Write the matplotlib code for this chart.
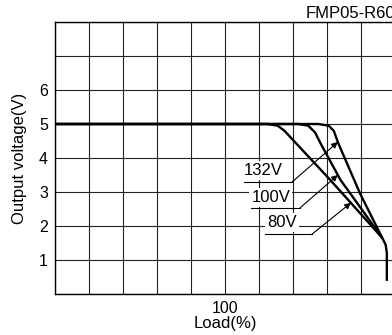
import numpy as np
import matplotlib
matplotlib.use("Agg")
import matplotlib.pyplot as plt

plt.rcParams['font.family'] = ['Liberation Sans', 'DejaVu Sans']

# curves (load %, output V)
load_80 = [0, 125, 131, 135, 140, 162, 192.5]
volt_80 = [5, 5, 4.95, 4.8, 4.53, 3.35, 1.65]
load_100 = [0, 143, 149, 153, 156, 168, 192.5]
volt_100 = [5, 5, 4.95, 4.75, 4.45, 3.35, 1.65]
load_132 = [0, 155, 161, 164, 166.5, 179.5, 192.5]
volt_132 = [5, 5, 4.95, 4.8, 4.45, 2.95, 1.65]
# common tail after the curves meet
load_tail = [192.5, 194.5, 195.2, 195.2]
volt_tail = [1.65, 1.45, 1.2, 0.42]

labels = ["132V", "100V", "80V"]
# label text position, underline span, arrow target voltage
txt_pos = [(122.4, 3.62), (127, 2.85), (133.5, 2.09)]
under_x = [(111, 139.4), (115.3, 144.1), (123.5, 151.2)]
under_y = [3.29, 2.53, 1.76]
tip_v = [4.47, 3.5, 2.68]

fig = plt.figure(figsize=(3.92, 3.35), dpi=100)
ax = fig.add_axes([55/392, 41/335, 340/392, 272/335])

ax.set_xlim(0, 200)
ax.set_ylim(0, 8)
ax.set_xticks(range(0, 201, 20))
ax.set_xticklabels(['100' if v == 100 else '' for v in range(0, 201, 20)], fontsize=11.5)
ax.set_yticks(range(0, 9))
ax.set_yticklabels(['' if v in (0, 7, 8) else str(v) for v in range(0, 9)], fontsize=11.5)
ax.tick_params(length=0, pad=5)
ax.grid(True, color='#222222', lw=0.8)
ax.set_axisbelow(True)
for s in ax.spines.values():
    s.set_color('black')
    s.set_linewidth(1.0)

curves = [(load_132, volt_132), (load_100, volt_100), (load_80, volt_80)]
for lx, vy in curves:
    ax.plot(lx, vy, color='black', lw=1.7, solid_capstyle='butt', zorder=3)
ax.plot(load_tail, volt_tail, color='black', lw=1.7, zorder=3)

for i, lab in enumerate(labels):
    lx, vy = curves[i]
    tip_x = np.interp(tip_v[i], vy[::-1], lx[::-1])
    ax.text(txt_pos[i][0], txt_pos[i][1], lab, fontsize=12, ha='center', va='center',
            bbox=dict(facecolor='white', edgecolor='none', pad=1.5), zorder=4)
    ax.plot(under_x[i], [under_y[i]] * 2, color='black', lw=0.8, zorder=4)
    ax.annotate('', xy=(tip_x, tip_v[i]), xytext=(under_x[i][1], under_y[i]),
                arrowprops=dict(arrowstyle='-|>', color='black', lw=0.8,
                                mutation_scale=9, shrinkA=0, shrinkB=0), zorder=5)

ax.set_xlabel('Load(%)', fontsize=12, labelpad=0)
ax.set_ylabel('Output voltage(V)', fontsize=12, labelpad=9)
ax.set_title('FMP05-R60', fontsize=12, loc='right', pad=3)

fig.savefig('out.png', dpi=100)
